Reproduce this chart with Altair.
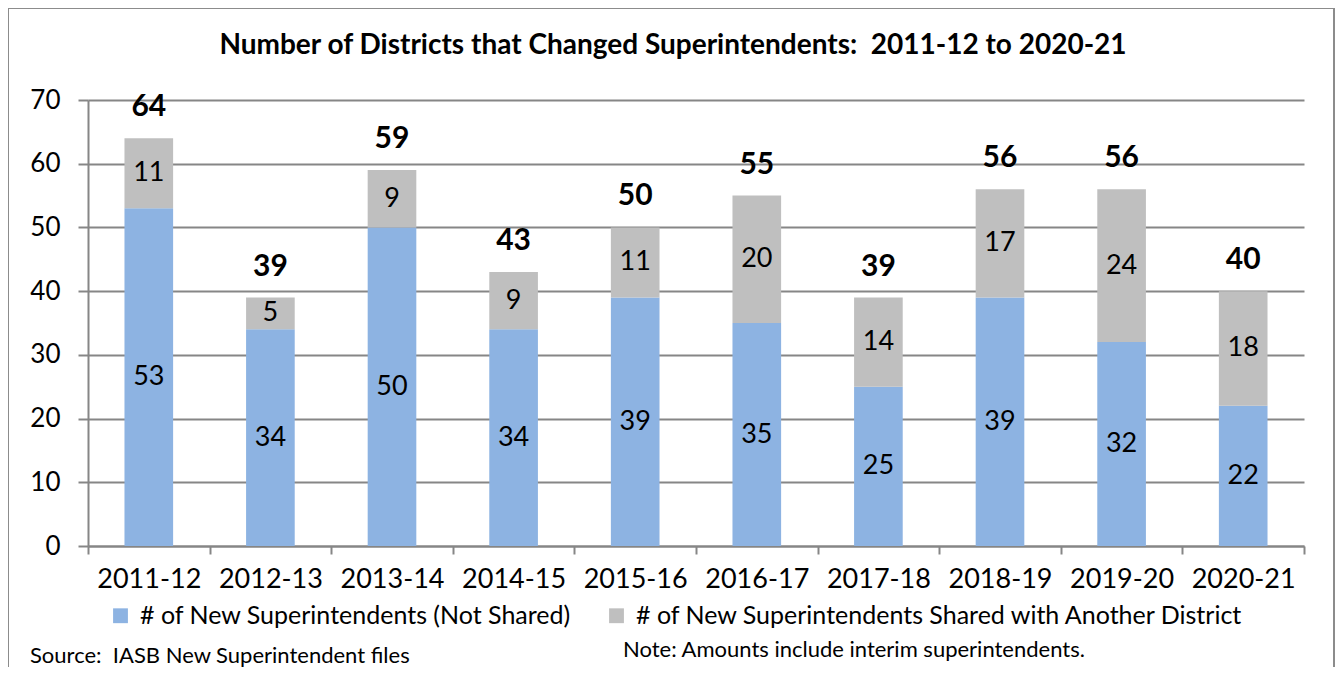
import altair as alt
import pandas as pd

years = ["2011-12", "2012-13", "2013-14", "2014-15", "2015-16",
         "2016-17", "2017-18", "2018-19", "2019-20", "2020-21"]
not_shared = [53, 34, 50, 34, 39, 35, 25, 39, 32, 22]
shared = [11, 5, 9, 9, 11, 20, 14, 17, 24, 18]
totals = [64, 39, 59, 43, 50, 55, 39, 56, 56, 40]
series_names = ["# of New Superintendents (Not Shared)",
                "# of New Superintendents Shared with Another District"]
series_colors = ["#8DB3E2", "#BFBFBF"]
title_text = "Number of Districts that Changed Superintendents:\u00a0 2011-12 to 2020-21"
source_text = "Source:\u00a0 IASB New Superintendent files"
note_text = "Note: Amounts include interim superintendents."

FONT = "Lato"

rows = []
for i, y in enumerate(years):
    rows.append({"year": y, "series": series_names[0], "value": not_shared[i], "k": 0})
    rows.append({"year": y, "series": series_names[1], "value": shared[i], "k": 1})
df = pd.DataFrame(rows)
tot_df = pd.DataFrame({"year": years, "total": totals})

W, H = 1216, 446

x_scale = alt.Scale(paddingInner=0, paddingOuter=0)
x_enc = alt.X("year:N", sort=years, title=None, scale=x_scale,
              axis=alt.Axis(labelAngle=0, labelFontSize=27, labelFont=FONT,
                            labelColor="#000000", labelPadding=12,
                            tickBand="extent", tickSize=8, tickWidth=2,
                            tickColor="#868686", domainColor="#868686",
                            domainWidth=2))
y_scale = alt.Scale(domain=[0, 70], nice=False)

bars = alt.Chart(df).mark_bar(width={"band": 0.4}).encode(
    x=x_enc,
    y=alt.Y("value:Q", stack="zero", scale=y_scale, title=None,
            axis=alt.Axis(values=list(range(0, 71, 10)), labelFontSize=26,
                          labelFont=FONT, labelColor="#000000", labelPadding=18,
                          tickSize=10, tickWidth=2, tickColor="#868686",
                          domainColor="#868686", domainWidth=2,
                          grid=True, gridColor="#868686", gridWidth=2)),
    color=alt.Color("series:N",
                    scale=alt.Scale(domain=series_names, range=series_colors),
                    legend=alt.Legend(title=None, orient="none", legendX=20,
                                      legendY=503, direction="horizontal",
                                      symbolType="square", symbolSize=220,
                                      symbolStrokeWidth=0, labelFontSize=25,
                                      labelFont=FONT, labelColor="#000000",
                                      labelOffset=7, columnPadding=32,
                                      labelLimit=900)),
    order=alt.Order("k:Q", sort="ascending"),
)

inner = alt.Chart(df).transform_stack(
    stack="value", groupby=["year"], as_=["y0", "y1"],
    sort=[alt.SortField("k", order="ascending")]
).transform_calculate(mid="(datum.y0 + datum.y1) / 2").mark_text(
    fontSize=27, font=FONT, color="#000000", baseline="middle"
).encode(
    x=alt.X("year:N", sort=years, scale=x_scale),
    y=alt.Y("mid:Q", scale=y_scale),
    text="value:Q",
)

tot = alt.Chart(tot_df).mark_text(
    fontSize=30, font=FONT, fontWeight="bold", color="#000000",
    baseline="middle", dy=-31
).encode(
    x=alt.X("year:N", sort=years, scale=x_scale),
    y=alt.Y("total:Q", scale=y_scale),
    text="total:Q",
)

frame = alt.Chart(alt.Data(values=[{"a": 1}])).mark_rect(
    fill=None, stroke="#8C8C8C", strokeWidth=2
).encode(
    x=alt.value(-80), x2=alt.value(1246), y=alt.value(-92), y2=alt.value(640)
)

title = alt.Chart(alt.Data(values=[{"t": title_text}])).mark_text(
    fontSize=28, font=FONT, fontWeight="bold", color="#000000",
    align="center", baseline="middle"
).encode(x=alt.value(585), y=alt.value(-54), text="t:N")

source = alt.Chart(alt.Data(values=[{"t": source_text}])).mark_text(
    fontSize=22, font=FONT, color="#000000", align="left", baseline="middle"
).encode(x=alt.value(-58), y=alt.value(556), text="t:N")

note = alt.Chart(alt.Data(values=[{"t": note_text}])).mark_text(
    fontSize=22, font=FONT, color="#000000", align="left", baseline="middle"
).encode(x=alt.value(535), y=alt.value(550), text="t:N")

chart = alt.layer(frame, bars, inner, tot, title, source, note).properties(
    width=W, height=H,
    autosize=alt.AutoSizeParams(type="none"),
    padding={"left": 80, "top": 92, "right": 31, "bottom": 121},
).configure_view(stroke=None)

chart.save("out.html", embed_options={"renderer": "svg", "actions": False})
